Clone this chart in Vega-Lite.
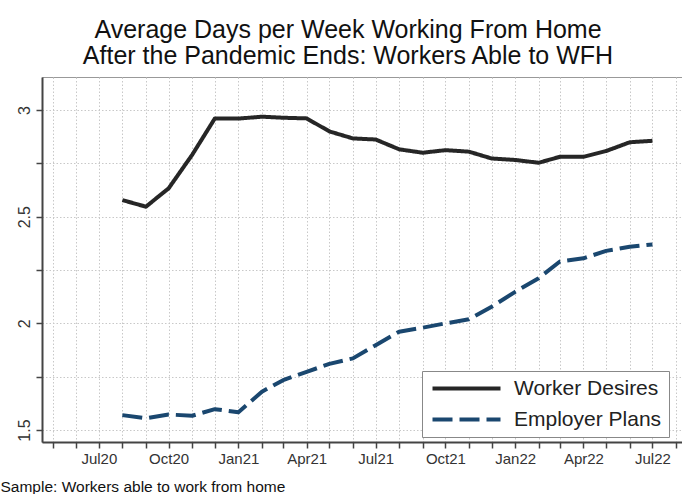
{
  "$schema": "https://vega.github.io/schema/vega-lite/v6.json",
  "width": 640,
  "height": 365,
  "autosize": {"type": "none"},
  "padding": {"left": 42, "top": 77, "right": 0, "bottom": 52},
  "background": "white",
  "title": {
    "text": ["Average Days per Week Working From Home", "After the Pandemic Ends: Workers Able to WFH"],
    "anchor": "middle",
    "frame": "group",
    "dx": -14,
    "font": "Liberation Sans",
    "fontSize": 25,
    "fontWeight": "normal",
    "color": "#111",
    "lineHeight": 26,
    "offset": 8
  },
  "data": {
    "values": [
      {"series": "Worker Desires", "date": "2020-08-01", "value": 2.578},
      {"series": "Worker Desires", "date": "2020-09-01", "value": 2.547},
      {"series": "Worker Desires", "date": "2020-10-01", "value": 2.633},
      {"series": "Worker Desires", "date": "2020-11-01", "value": 2.79},
      {"series": "Worker Desires", "date": "2020-12-01", "value": 2.961},
      {"series": "Worker Desires", "date": "2021-01-01", "value": 2.96},
      {"series": "Worker Desires", "date": "2021-02-01", "value": 2.969},
      {"series": "Worker Desires", "date": "2021-03-01", "value": 2.964},
      {"series": "Worker Desires", "date": "2021-04-01", "value": 2.961},
      {"series": "Worker Desires", "date": "2021-05-01", "value": 2.9},
      {"series": "Worker Desires", "date": "2021-06-01", "value": 2.867},
      {"series": "Worker Desires", "date": "2021-07-01", "value": 2.862},
      {"series": "Worker Desires", "date": "2021-08-01", "value": 2.816},
      {"series": "Worker Desires", "date": "2021-09-01", "value": 2.8},
      {"series": "Worker Desires", "date": "2021-10-01", "value": 2.812},
      {"series": "Worker Desires", "date": "2021-11-01", "value": 2.805},
      {"series": "Worker Desires", "date": "2021-12-01", "value": 2.773},
      {"series": "Worker Desires", "date": "2022-01-01", "value": 2.766},
      {"series": "Worker Desires", "date": "2022-02-01", "value": 2.753},
      {"series": "Worker Desires", "date": "2022-03-01", "value": 2.781},
      {"series": "Worker Desires", "date": "2022-04-01", "value": 2.781},
      {"series": "Worker Desires", "date": "2022-05-01", "value": 2.808},
      {"series": "Worker Desires", "date": "2022-06-01", "value": 2.849},
      {"series": "Worker Desires", "date": "2022-07-01", "value": 2.856},
      {"series": "Employer Plans", "date": "2020-08-01", "value": 1.57},
      {"series": "Employer Plans", "date": "2020-09-01", "value": 1.555},
      {"series": "Employer Plans", "date": "2020-10-01", "value": 1.573},
      {"series": "Employer Plans", "date": "2020-11-01", "value": 1.567},
      {"series": "Employer Plans", "date": "2020-12-01", "value": 1.598},
      {"series": "Employer Plans", "date": "2021-01-01", "value": 1.583},
      {"series": "Employer Plans", "date": "2021-02-01", "value": 1.68},
      {"series": "Employer Plans", "date": "2021-03-01", "value": 1.734},
      {"series": "Employer Plans", "date": "2021-04-01", "value": 1.773},
      {"series": "Employer Plans", "date": "2021-05-01", "value": 1.81},
      {"series": "Employer Plans", "date": "2021-06-01", "value": 1.836},
      {"series": "Employer Plans", "date": "2021-07-01", "value": 1.898},
      {"series": "Employer Plans", "date": "2021-08-01", "value": 1.961},
      {"series": "Employer Plans", "date": "2021-09-01", "value": 1.98},
      {"series": "Employer Plans", "date": "2021-10-01", "value": 2.0},
      {"series": "Employer Plans", "date": "2021-11-01", "value": 2.019},
      {"series": "Employer Plans", "date": "2021-12-01", "value": 2.078},
      {"series": "Employer Plans", "date": "2022-01-01", "value": 2.148},
      {"series": "Employer Plans", "date": "2022-02-01", "value": 2.212},
      {"series": "Employer Plans", "date": "2022-03-01", "value": 2.29},
      {"series": "Employer Plans", "date": "2022-04-01", "value": 2.305},
      {"series": "Employer Plans", "date": "2022-05-01", "value": 2.34},
      {"series": "Employer Plans", "date": "2022-06-01", "value": 2.359},
      {"series": "Employer Plans", "date": "2022-07-01", "value": 2.37}
    ]
  },
  "mark": {"type": "line", "strokeWidth": 4, "clip": true, "strokeCap": "butt", "strokeJoin": "round"},
  "encoding": {
    "x": {
      "field": "date",
      "type": "temporal",
      "scale": {
        "type": "utc",
        "domain": [
          {"year": 2020, "month": 4, "date": 17, "utc": true},
          {"year": 2022, "month": 8, "date": 9, "utc": true}
        ]
      },
      "axis": {
        "tickCount": {"interval": "month", "step": 1},
        "labelExpr": "utcmonth(datum.value) % 3 == 0 ? utcFormat(datum.value, '%b%y') : ''",
        "labelOverlap": false,
        "labelFlush": false,
        "labelPadding": 3,
        "labelFontSize": 15,
        "labelColor": "#333",
        "tickSize": 6,
        "tickColor": "#444",
        "tickWidth": 1.5,
        "domainColor": "#444",
        "domainWidth": 2,
        "grid": true,
        "gridColor": "#c8c8c8",
        "gridDash": [1.5, 2],
        "title": "Sample: Workers able to work from home",
        "titleAnchor": "start",
        "titleAlign": "left",
        "titleX": -42,
        "titleY": 49,
        "titleBaseline": "alphabetic",
        "titleFontSize": 15.5,
        "titleFontWeight": "normal",
        "titleColor": "#111"
      }
    },
    "y": {
      "field": "value",
      "type": "quantitative",
      "scale": {"domain": [1.444, 3.155], "nice": false, "zero": false},
      "axis": {
        "values": [1.5, 1.75, 2, 2.25, 2.5, 2.75, 3],
        "labelExpr": "datum.value % 0.5 == 0 ? format(datum.value, '~g') : ''",
        "title": null,
        "labelAngle": 270,
        "labelAlign": "center",
        "labelBaseline": "alphabetic",
        "labelPadding": 7,
        "labelFontSize": 16,
        "labelColor": "#333",
        "tickSize": 6,
        "tickColor": "#444",
        "tickWidth": 1.5,
        "domainColor": "#444",
        "domainWidth": 2,
        "grid": true,
        "gridColor": "#c8c8c8",
        "gridDash": [1.5, 2]
      }
    },
    "color": {
      "field": "series",
      "type": "nominal",
      "scale": {"domain": ["Worker Desires", "Employer Plans"], "range": ["#262626", "#1a476f"]},
      "legend": {
        "orient": "none",
        "legendX": 380,
        "legendY": 294,
        "title": null
      }
    },
    "strokeDash": {
      "field": "series",
      "type": "nominal",
      "scale": {"domain": ["Worker Desires", "Employer Plans"], "range": [[1, 0], [20, 7]]},
      "legend": {
        "orient": "none",
        "legendX": 380,
        "legendY": 294,
        "title": null
      }
    }
  },
  "config": {
    "font": "Liberation Sans",
    "view": {"stroke": "#999", "strokeWidth": 1},
    "legend": {
      "strokeColor": "#888",
      "fillColor": "white",
      "padding": 7,
      "cornerRadius": 0,
      "symbolType": "M-1,0H8.714",
      "symbolSize": 196,
      "symbolStrokeWidth": 4,
      "labelFontSize": 21,
      "labelColor": "#222",
      "labelOffset": 64,
      "labelLimit": 400,
      "rowPadding": 9
    }
  }
}
